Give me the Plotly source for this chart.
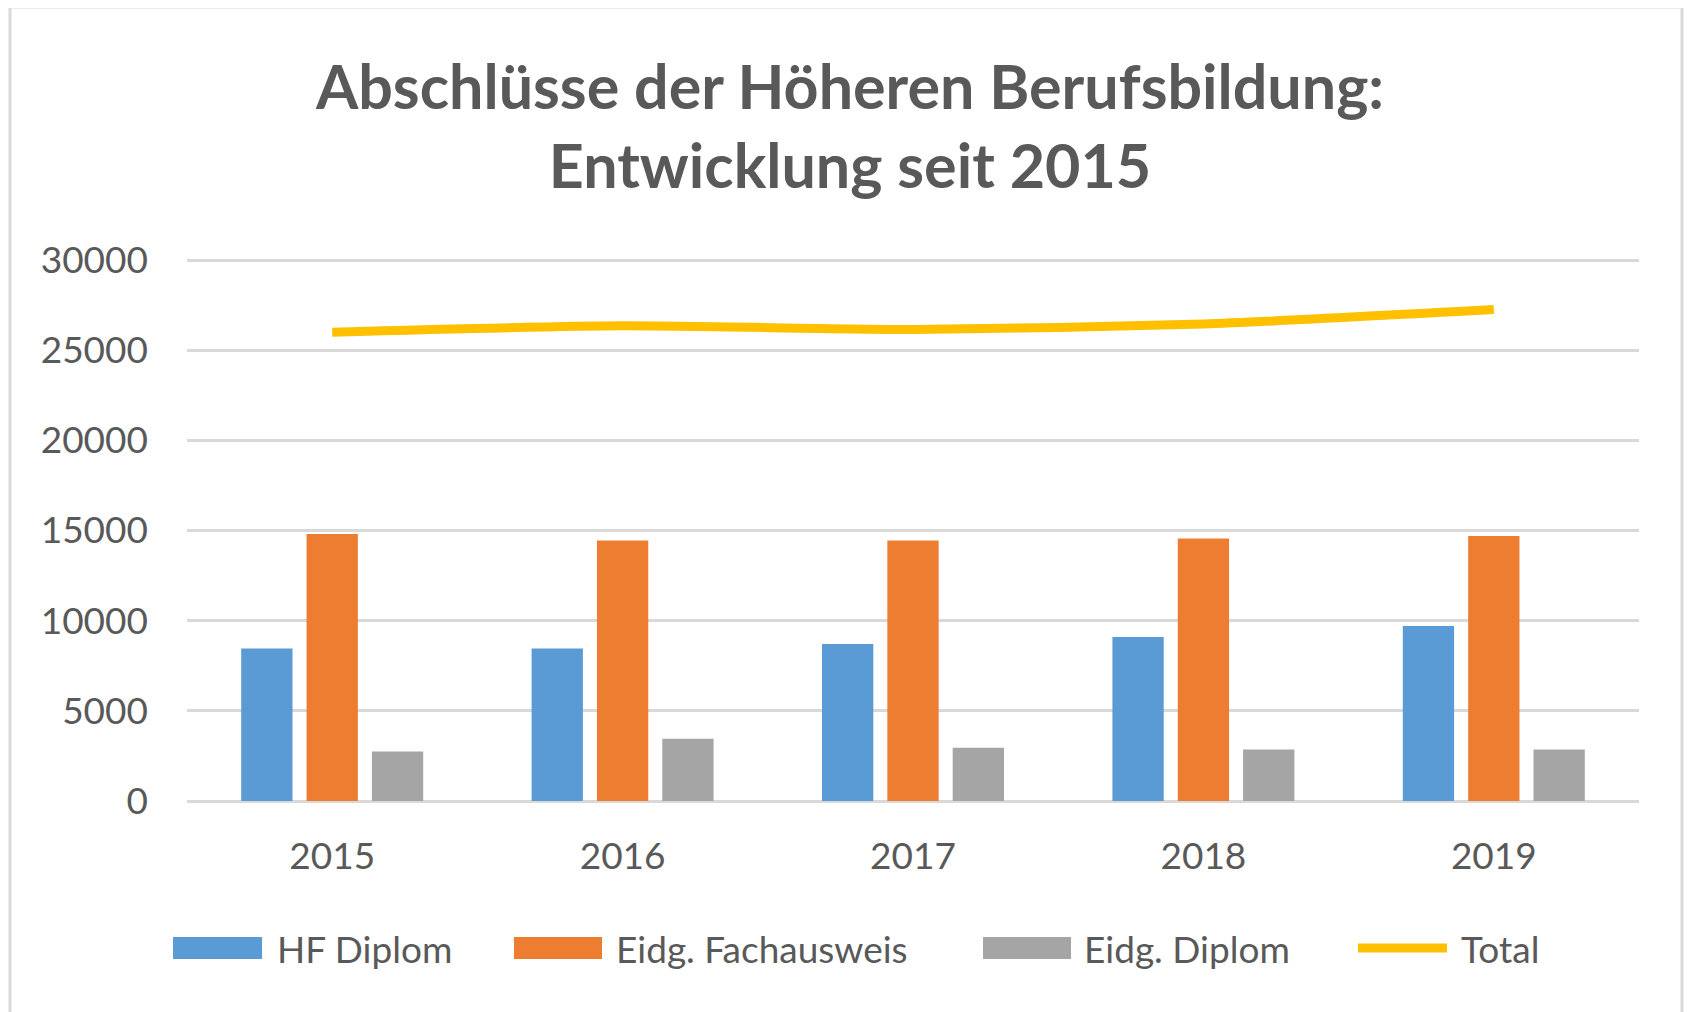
import plotly.graph_objects as go

# ---- data ----
years = ["2015", "2016", "2017", "2018", "2019"]
hf_diplom = [8450, 8450, 8700, 9100, 9700]
fachausweis = [14800, 14450, 14450, 14550, 14700]
eidg_diplom = [2750, 3450, 2950, 2850, 2850]
total = [26000, 26350, 26150, 26450, 27250]
series_names = ["HF Diplom", "Eidg. Fachausweis", "Eidg. Diplom", "Total"]
y_ticks = [0, 5000, 10000, 15000, 20000, 25000, 30000]
title_text = "Abschlüsse der Höheren Berufsbildung:<br>Entwicklung seit 2015"

colors = ["#5B9BD5", "#ED7D31", "#A5A5A5", "#FFC000"]
FONT = "Lato, Open Sans, sans-serif"
TXT = "#595959"

OFF = 8  # default body margin of the page
W, H = 1692 - OFF, 1012 - OFF
# plot area in page pixels (slightly padded so the edge gridlines are drawn)
PL, PR, PT, PB = 187, 1639, 258, 803
L, R, T, B = PL - OFF, PR - OFF, PT - OFF, PB - OFF
PAD = 30000 * 2 / 541  # value equivalent of 2 px


def px_x(x):  # page px -> paper
    return (x - OFF - L) / (R - L)


def px_y(y):
    return (B - (y - OFF)) / (B - T)


fig = go.Figure()
for name, vals, col in zip(series_names[:3], [hf_diplom, fachausweis, eidg_diplom], colors[:3]):
    fig.add_trace(go.Bar(x=years, y=vals, name=name, marker=dict(color=col, line=dict(width=0))))
fig.add_trace(go.Scatter(x=years, y=total, name=series_names[3], mode="lines",
                         line=dict(color=colors[3], width=9, shape="spline", smoothing=0.6)))

shapes = []
annotations = []
# outer chart border
shapes.append(dict(type="rect", xref="paper", yref="paper",
                   x0=px_x(10), x1=px_x(1682), y0=px_y(1040), y1=px_y(7),
                   line=dict(color="#D9D9D9", width=3), fillcolor="rgba(0,0,0,0)", layer="below"))

# custom legend
leg_y = 948
sw = [(173, 262), (514, 602), (983, 1071), (1354, 1451)]
tx = [275, 614, 1082, 1459]
for i, name in enumerate(series_names):
    x0, x1 = sw[i]
    if i < 3:
        shapes.append(dict(type="rect", xref="paper", yref="paper",
                           x0=px_x(x0), x1=px_x(x1), y0=px_y(leg_y + 11), y1=px_y(leg_y - 11),
                           fillcolor=colors[i], line=dict(width=0)))
    else:
        shapes.append(dict(type="line", xref="paper", yref="paper",
                           x0=px_x(x0 + 4), x1=px_x(x1 - 4), y0=px_y(leg_y), y1=px_y(leg_y),
                           line=dict(color=colors[i], width=9)))
    annotations.append(dict(text=name, xref="paper", yref="paper", x=px_x(tx[i]), y=px_y(leg_y),
                            xanchor="left", yanchor="middle", showarrow=False,
                            font=dict(family=FONT, size=37, color=TXT)))

fig.update_layout(
    width=W, height=H,
    margin=dict(l=L, r=W - R, t=T, b=H - B, autoexpand=False),
    paper_bgcolor="white", plot_bgcolor="white",
    showlegend=False,
    barmode="group", bargap=0.325, bargroupgap=0.215,
    title=dict(text=title_text, x=(850 - OFF) / W, xref="container", xanchor="center",
               y=1 - 101 / H, yref="container", yanchor="middle",
               font=dict(family=FONT, size=61, color=TXT, weight="bold")),
    shapes=shapes, annotations=annotations,
    xaxis=dict(showgrid=False, showline=False, zeroline=False, ticks="",
               tickfont=dict(family=FONT, size=37, color=TXT), ticklabelstandoff=28),
    yaxis=dict(range=[-PAD, 30000 + PAD], tickvals=y_ticks, ticktext=[str(v) for v in y_ticks],
               showgrid=True, gridcolor="#D9D9D9", gridwidth=2.5, zeroline=False, showline=False,
               ticks="", tickfont=dict(family=FONT, size=37, color=TXT), ticklabelstandoff=38),
)

fig.write_html("out.html")
